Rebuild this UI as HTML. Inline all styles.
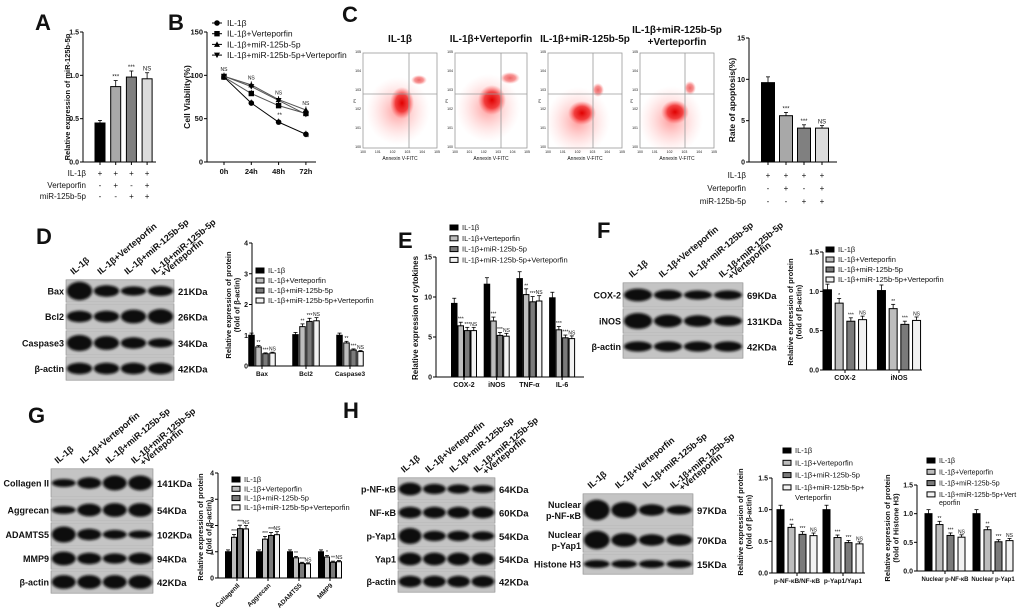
<!DOCTYPE html>
<html><head><meta charset="utf-8"><style>
html,body{margin:0;padding:0;background:#fff;}
svg{display:block;font-family:"Liberation Sans",Arial,sans-serif;}
</style></head><body>
<svg id="fig" width="1020" height="613" viewBox="0 0 1020 613" xmlns="http://www.w3.org/2000/svg">
<defs>
<filter id="blur1" x="-50%" y="-100%" width="200%" height="300%"><feGaussianBlur stdDeviation="1.4"/></filter>
<radialGradient id="redc"><stop offset="0" stop-color="#e00000" stop-opacity="1"/><stop offset="0.55" stop-color="#ee2020" stop-opacity="0.8"/><stop offset="1" stop-color="#ff6060" stop-opacity="0"/></radialGradient>
<radialGradient id="pinkc"><stop offset="0" stop-color="#ff7070" stop-opacity="0.7"/><stop offset="1" stop-color="#ffc0c0" stop-opacity="0"/></radialGradient>
</defs>
</svg>
<script>
// ---------- DATA ----------
const seriesNames = ['IL-1β','IL-1β+Verteporfin','IL-1β+miR-125b-5p','IL-1β+miR-125b-5p+Verteporfin'];
const aVals = [0.45,0.87,0.98,0.96];
const aErr = [0.03,0.07,0.07,0.07];
const aStars = ['','***','***','NS'];
const aTicks = [0,0.5,1.0,1.5];
const bTimes = ['0h','24h','48h','72h'];
const bIL = [98,68,46,32];
const bV = [98,79,65,56];
const bM = [99,89,72,60];
const bMV = [99,87,71,55];
const bTicks = [0,50,100,150];
const cVals = [9.6,5.6,4.1,4.1];
const cErr = [0.7,0.4,0.4,0.3];
const cStars = ['','***','***','NS'];
const cTicks = [0,5,10,15];
const dCats = ['Bax','Bcl2','Caspase3'];
const dVals = [[1.0,1.02,1.0],[0.62,1.28,0.75],[0.40,1.45,0.52],[0.42,1.47,0.47]];
const dStars = [['','',''],['**','**','**'],['***','***','***'],['NS','NS','NS']];
const dTicks = [0,1,2,3,4];
const eCats = ['COX-2','iNOS','TNF-α','IL-6'];
const eVals = [[9.2,11.6,12.3,9.9],[6.4,7.0,10.3,5.9],[5.8,5.2,9.4,4.9],[5.8,5.1,9.5,4.8]];
const eStars = [['','','',''],['***','***','**','***'],['***','***','***','***'],['NS','NS','NS','NS']];
const eTicks = [0,5,10,15];
const fCats = ['COX-2','iNOS'];
const fVals = [[1.02,1.01],[0.85,0.78],[0.62,0.58],[0.64,0.63]];
const fStars = [['',''],['*','**'],['***','***'],['NS','NS']];
const fTicks = [0.0,0.5,1.0,1.5];
const gCats = ['CollagenII','Aggrecan','ADAMTS5','MMP9'];
const gVals = [[1.0,1.0,1.0,1.0],[1.55,1.48,0.77,0.80],[1.88,1.62,0.56,0.60],[1.87,1.65,0.54,0.62]];
const gStars = [['','','',''],['***','***','**','*'],['***','***','***','**'],['NS','NS','NS','NS']];
const gTicks = [0,1,2,3,4];
const h1Cats = ['p-NF-κB/NF-κB','p-Yap1/Yap1'];
const h1Vals = [[1.0,1.0],[0.72,0.56],[0.61,0.48],[0.59,0.46]];
const h1Stars = [['',''],['**','***'],['***','***'],['NS','NS']];
const h2Cats = ['Nuclear p-NF-κB','Nuclear p-Yap1'];
const h2Vals = [[1.0,1.0],[0.81,0.72],[0.62,0.51],[0.59,0.53]];
const h2Stars = [['',''],['**','**'],['***','***'],['NS','NS']];
const hTicks = [0.0,0.5,1.0,1.5];

// ---------- HELPERS ----------
const NS='http://www.w3.org/2000/svg';
const S=document.getElementById('fig');
const FILLS=['#000','#bdbdbd','#7a7a7a','#f2f2f2'];
function mk(tag,attrs,parent){const e=document.createElementNS(NS,tag);for(const k in attrs)e.setAttribute(k,attrs[k]);(parent||S).appendChild(e);return e;}
function txt(x,y,s,size,anchor,weight,name,rot){
  const t=mk('text',{x:x,y:y,'font-size':size,'text-anchor':anchor||'start','font-weight':weight||'normal',fill:'#111'});
  if(rot!==undefined)t.setAttribute('transform','rotate('+rot+' '+x+' '+y+')');
  t.textContent=s;
  
  
  return t;
}
function line(x1,y1,x2,y2,w,name,col){
  const l=mk('line',{x1:x1,y1:y1,x2:x2,y2:y2,stroke:col||'#000','stroke-width':w||1});
  
  
  return l;
}
function panelLabel(x,y,s){txt(x,y,s,22,'start','bold','panel-label-'+s.toLowerCase());}
function yAxis(ax,y0,yTop,ymax,ticks,fmt,prefix,fs){
  line(ax,y0,ax,yTop,1,prefix+'-y-axis');
  ticks.forEach(v=>{const y=y0-(y0-yTop)*v/ymax;line(ax-3,y,ax,y,1,prefix+'-y-tick');txt(ax-4,y+2.5,fmt(v),fs||7,'end','bold',prefix+'-y-tick-label');});
}
function yTitle(x,y,lines,prefix,fs){
  lines.forEach((s,i)=>txt(x+i*(fs+1),y,s,fs,'middle','bold',prefix+'-y-axis-title',-90));
}
function legend(x,y,dy,prefix,fs,names){
  (names||seriesNames).forEach((s,i)=>{
    const r=mk('rect',{x:x,y:y+i*dy-5,width:8,height:5,fill:FILLS[i],stroke:'#000','stroke-width':1});
    
    
    txt(x+12,y+i*dy,s,fs,'start','normal',prefix+'-legend-entry');
  });
}
function bar(cx,bw,y0,yv,fill,name){
  const r=mk('rect',{x:cx-bw/2,y:Math.min(yv,y0),width:bw,height:Math.abs(y0-yv),fill:fill,stroke:'#000','stroke-width':1});
  
  
  return r;
}
function errbar(cx,yv,ye,name){
  line(cx,yv,cx,ye,0.8,name);line(cx-2,ye,cx+2,ye,0.8,name+'-cap');
}
function grouped(o){
  const sc=v=>o.y0-(o.y0-o.yTop)*v/o.ymax;
  yAxis(o.ax,o.y0,o.yTop,o.ymax,o.ticks,o.fmt,o.p,o.tfs);
  line(o.ax,o.y0,o.ar,o.y0,1,o.p+'-x-axis');
  o.cats.forEach((c,g)=>{
    const gc=o.c0+g*o.step;
    line(gc,o.y0,gc,o.y0+3,1,o.p+'-x-tick');
    if(o.rotLab) txt(gc+3,o.y0+8,c,6.5,'end','bold',o.p+'-x-tick-label',-45);
    else txt(gc,o.y0+10,c,o.xfs||7,'middle','bold',o.p+'-x-tick-label');
    for(let s=0;s<4;s++){
      const cx=gc+(s-1.5)*o.bstep;const v=o.vals[s][g];
      const yv=sc(v);const ye=sc(v*1.07);
      errbar(cx,yv,ye,o.p+'-error-bar');
      bar(cx,o.bw,o.y0,yv,FILLS[s],o.p+'-bar-'+c.toLowerCase().replace(/[^a-z0-9]+/g,'-')+'-s'+(s+1));
      if(o.stars[s][g])txt(cx,ye-1.5,o.stars[s][g],o.sfs||5,'middle','normal',o.p+'-significance');
    }
  });
}
function single(o){
  const sc=v=>o.y0-(o.y0-o.yTop)*v/o.ymax;
  yAxis(o.ax,o.y0,o.yTop,o.ymax,o.ticks,o.fmt,o.p,o.tfs);
  line(o.ax,o.y0,o.ar,o.y0,1,o.p+'-x-axis');
  o.vals.forEach((v,i)=>{
    const cx=o.c0+i*o.step;const yv=sc(v);const ye=sc(v+o.err[i]);
    line(cx,o.y0,cx,o.y0+3,1,o.p+'-x-tick');
    errbar(cx,yv,ye,o.p+'-error-bar');
    bar(cx,o.bw,o.y0,yv,o.fills[i],o.p+'-bar-'+(i+1));
    if(o.stars[i])txt(cx,ye-2,o.stars[i],6,'middle','normal',o.p+'-significance');
  });
  const rows=[['IL-1β','+','+','+','+'],['Verteporfin','-','+','-','+'],['miR-125b-5p','-','-','+','+']];
  rows.forEach((r,j)=>{
    txt(o.lx,o.ry[j],r[0],8,'end','normal',o.p+'-condition-label');
    for(let i=0;i<4;i++)txt(o.c0+i*o.step,o.ry[j],r[i+1],8,'middle','normal',o.p+'-condition-sign');
  });
}
function blot(o){
  const lanes=4;let y=o.y;
  const bg=mk('rect',{x:o.x,y:o.y,width:o.w,height:o.rows.reduce((a,r)=>a+r.h,0),fill:'#fff'});
  
  
  o.rows.forEach((r,ri)=>{
    const rr=mk('rect',{x:o.x,y:y+0.8,width:o.w,height:r.h-1.6,fill:'#c4c4c4',stroke:'#8a8a8a','stroke-width':0.6});
    
    
    for(let l=0;l<lanes;l++){
      const cx=o.x+o.w*(l+0.5)/lanes;
      const b=mk('ellipse',{cx:cx,cy:y+r.h/2,rx:o.w/lanes*0.47,ry:r.band[l]*1.15,fill:'#0e0e0e',filter:'url(#blur1)'});
      
      
    }
    const ls=r.label.split('|');
    ls.forEach((s,k)=>txt(o.x-2,y+r.h/2+3.5+(k-(ls.length-1)/2)*11,s,o.lfs||9,'end','bold',o.p+'-protein-label'));
    txt(o.x+o.w+4,y+r.h/2+4,r.kda,9.5,'start','bold',o.p+'-kda-label');
    y+=r.h;
  });
  const labs=['IL-1β','IL-1β+Verteporfin','IL-1β+miR-125b-5p','IL-1β+miR-125b-5p'];
  for(let l=0;l<lanes;l++){
    const cx=o.x+o.w*(l+0.5)/lanes-6;const cy=o.y-4;
    txt(cx,cy,labs[l],o.cfs||9,'start','bold',o.p+'-lane-label',-40);
  }
  const cx=o.x+o.w*3.5/lanes+3,cy=o.y-2;
  txt(cx,cy,'+Verteporfin',o.cfs||9,'start','bold',o.p+'-lane-label',-40);
}

// ---------- PANEL A ----------
panelLabel(35,30,'A');
single({p:'a',ax:83,ar:156,y0:162,yTop:32,ymax:1.5,ticks:aTicks,fmt:v=>v.toFixed(1),vals:aVals,err:aErr,stars:aStars,c0:100,step:15.7,bw:10,fills:['#000','#a8a8a8','#808080','#dcdcdc'],lx:86,ry:[176,188,199]});
yTitle(70,97,['Relative expression of miR-125b-5p'],'a',7.5);

// ---------- PANEL B ----------
panelLabel(168,30,'B');
(function(){
  const ax=207,y0=162,yTop=32,ymax=150;
  const sx=i=>224+i*27.3,sy=v=>y0-(y0-yTop)*v/ymax;
  yAxis(ax,y0,yTop,ymax,bTicks,v=>String(v),'b',7.5);
  line(ax,y0,316,y0,1,'b-x-axis');
  bTimes.forEach((t,i)=>{line(sx(i),y0,sx(i),y0+3,1,'b-x-tick');txt(sx(i),y0+12,t,7.5,'middle','bold','b-x-tick-label');});
  yTitle(190,97,['Cell Viability(%)'],'b',8.5);
  const series=[bIL,bV,bM,bMV];const shapes=['circle','square','tri','tridown'];
  function marker(x,y,sh,name){
    let m;
    if(sh==='circle')m=mk('circle',{cx:x,cy:y,r:2.8,fill:'#000'});
    else if(sh==='square')m=mk('rect',{x:x-2.7,y:y-2.7,width:5.4,height:5.4,fill:'#000'});
    else if(sh==='tri')m=mk('polygon',{points:(x-3)+','+(y+2.5)+' '+(x+3)+','+(y+2.5)+' '+x+','+(y-3),fill:'#000'});
    else m=mk('polygon',{points:(x-3)+','+(y-2.5)+' '+(x+3)+','+(y-2.5)+' '+x+','+(y+3),fill:'#000'});
    
    
  }
  series.forEach((s,k)=>{
    const pl=mk('polyline',{points:s.map((v,i)=>sx(i)+','+sy(v)).join(' '),fill:'none',stroke:k===0?'#000':'#555','stroke-width':1});
    
    
    s.forEach((v,i)=>{line(sx(i),sy(v),sx(i),sy(v+4),0.8,'b-error-bar');marker(sx(i),sy(v),shapes[k],'b-point-s'+(k+1));});
  });
  for(let i=0;i<4;i++){
    const top=sy(Math.max(bV[i],bM[i],bMV[i])+6);
    txt(sx(i),top,'NS',5,'middle','normal','b-significance');
    if(i>0)txt(sx(i)+1,sy(bIL[i])-5+ (i===3?10:0),i===1?'':'**',6,'middle','normal','b-significance');
  }
  seriesNames.forEach((s,k)=>{
    const y=23+k*10.7;
    line(212,y,222,y,1,'b-legend-line');
    marker(217,y,shapes[k],'b-legend-marker');
    txt(227,y+3,s,8.5,'start','normal','b-legend-entry');
  });
})();

// ---------- PANEL C ----------
panelLabel(342,22,'C');
(function(){
  const plots=[{x:363,w:74,gv:409,main:[402,103,12,16],sec:[419,80,8,5],title:['IL-1β']},
    {x:455,w:72,gv:501,main:[492,100,14,15],sec:[510,78,10,6],title:['IL-1β+Verteporfin']},
    {x:548,w:74,gv:593,main:[582,113,14,12],sec:[598,90,6,7],title:['IL-1β+miR-125b-5p']},
    {x:640,w:74,gv:685,main:[675,112,14,12],sec:[690,88,6,7],title:['IL-1β+miR-125b-5p','+Verteporfin']}];
  plots.forEach((p,i)=>{
    const g=mk('g',{});
    
    
    const r=mk('rect',{x:p.x,y:53,width:p.w,height:95,fill:'#fff',stroke:'#9a9a9a','stroke-width':0.8},g);
    
    const bgc=mk('ellipse',{cx:p.main[0]-4,cy:p.main[1]+8,rx:32,ry:34,fill:'url(#pinkc)'},g);
    
    const m=mk('ellipse',{cx:p.main[0],cy:p.main[1],rx:p.main[2],ry:p.main[3],fill:'url(#redc)'},g);
    
    const s=mk('ellipse',{cx:p.sec[0],cy:p.sec[1],rx:p.sec[2],ry:p.sec[3],fill:'url(#redc)',opacity:0.6},g);
    
    line(p.gv,53,p.gv,148,0.8,'c-gate-vertical','#9a9a9a');
    line(p.x,94,p.x+p.w,94,0.8,'c-gate-horizontal','#9a9a9a');
    for(let k=0;k<6;k++){txt(p.x+k*p.w/5,153,'10'+k,3.5,'middle','normal','c-flow-x-tick');txt(p.x-2,148-k*19,'10'+k,3.5,'end','normal','c-flow-y-tick');}
    txt(p.x+p.w/2,160,'Annexin V-FITC',5,'middle','normal','c-flow-x-title');
    txt(p.x-7,101,'PI',4,'middle','normal','c-flow-y-title',-90);
    p.title.forEach((t,k)=>txt(p.x+p.w/2,(p.title.length>1?33:42)+k*12,t,10,'middle','bold','c-flow-title'));
  });
  single({p:'c',ax:749,ar:837,y0:162,yTop:38,ymax:15,ticks:cTicks,fmt:v=>String(v),vals:cVals,err:cErr,stars:cStars,c0:768,step:18,bw:13,fills:['#000','#a8a8a8','#808080','#dcdcdc'],lx:746,ry:[178,191,204]});
  yTitle(735,100,['Rate of apoptosis(%)'],'c',8.5);
})();

// ---------- PANEL D ----------
panelLabel(36,244,'D');
blot({p:'d',x:66,y:279,w:108,rows:[
  {label:'Bax',kda:'21KDa',h:24,band:[8,5,4,4.5]},
  {label:'Bcl2',kda:'26KDa',h:27,band:[5,5,6,6.5]},
  {label:'Caspase3',kda:'34KDa',h:26,band:[7,6,5,4]},
  {label:'β-actin',kda:'42KDa',h:25,band:[5,5,5,5]}]});
grouped({p:'d',ax:252,ar:362,y0:366,yTop:243,ymax:4,ticks:dTicks,fmt:v=>String(v),cats:dCats,vals:dVals,stars:dStars,c0:262,step:44,bw:5.5,bstep:7,tfs:7,xfs:6.5});
yTitle(231,305,['Relative expression of protein','(fold of β-actin)'],'d',7.5);
legend(256,273,10,'d',7.5);

// ---------- PANEL E ----------
panelLabel(398,248,'E');
grouped({p:'e',ax:436,ar:584,y0:377,yTop:257,ymax:15,ticks:eTicks,fmt:v=>String(v),cats:eCats,vals:eVals,stars:eStars,c0:464,step:32.7,bw:5.5,bstep:6.5,tfs:7,xfs:7});
yTitle(418,318,['Relative expression of cytokines'],'e',8);
legend(450,230,10.8,'e',7.5);

// ---------- PANEL F ----------
panelLabel(597,238,'F');
blot({p:'f',x:623,y:282,w:120,rows:[
  {label:'COX-2',kda:'69KDa',h:26,band:[5.5,4.5,4,4]},
  {label:'iNOS',kda:'131KDa',h:26,band:[7,5.5,5,4.5]},
  {label:'β-actin',kda:'42KDa',h:25,band:[4.5,4.5,4.5,4.5]}]});
grouped({p:'f',ax:823,ar:922,y0:370,yTop:252,ymax:1.5,ticks:fTicks,fmt:v=>v.toFixed(1),cats:fCats,vals:fVals,stars:fStars,c0:845,step:54,bw:8,bstep:11.7,tfs:7,xfs:7});
yTitle(793,312,['Relative expression of protein','(fold of β-actin)'],'f',7.5);
legend(826,252,10,'f',7.5);

// ---------- PANEL G ----------
panelLabel(28,423,'G');
blot({p:'g',x:51,y:468,w:102,rows:[
  {label:'Collagen II',kda:'141KDa',h:30,band:[3.5,5,6.5,6.5]},
  {label:'Aggrecan',kda:'54KDa',h:24,band:[3.5,5.5,6,6]},
  {label:'ADAMTS5',kda:'102KDa',h:25,band:[7,5,4,3.5]},
  {label:'MMP9',kda:'94KDa',h:23,band:[6,5,4.5,5]},
  {label:'β-actin',kda:'42KDa',h:24,band:[6,6,6,6]}]});
grouped({p:'g',ax:218,ar:338,y0:578,yTop:473,ymax:4,ticks:gTicks,fmt:v=>String(v),cats:gCats,vals:gVals,stars:gStars,c0:237,step:31,bw:5,bstep:6,tfs:7,rotLab:true});
yTitle(203,527,['Relative expression of protein','(fold of β-actin)'],'g',7.5);
legend(232,482,9.3,'g',7.5);

// ---------- PANEL H ----------
panelLabel(343,418,'H');
blot({p:'h1',x:398,y:477,w:97,rows:[
  {label:'p-NF-κB',kda:'64KDa',h:24,band:[5.5,4.5,4,3.5]},
  {label:'NF-κB',kda:'60KDa',h:23,band:[5,5,5,5]},
  {label:'p-Yap1',kda:'54KDa',h:24,band:[7,4.5,4.5,4]},
  {label:'Yap1',kda:'54KDa',h:22,band:[5.5,5.5,5.5,5.5]},
  {label:'β-actin',kda:'42KDa',h:23,band:[5,5,5,5]}]});
blot({p:'h2',x:583,y:493,w:110,lfs:9,rows:[
  {label:'Nuclear|p-NF-κB',kda:'97KDa',h:34,band:[9,7,5,4]},
  {label:'Nuclear|p-Yap1',kda:'70KDa',h:26,band:[8,6,5,5]},
  {label:'Histone H3',kda:'15KDa',h:22,band:[3.5,3.5,3.5,3.5]}]});
grouped({p:'h1',ax:772,ar:865,y0:573,yTop:478,ymax:1.5,ticks:hTicks,fmt:v=>v.toFixed(1),cats:h1Cats,vals:h1Vals,stars:h1Stars,c0:797,step:46,bw:7,bstep:11,tfs:7,xfs:6.5});
yTitle(743,522,['Relative expression of protein','(fold of β-actin)'],'h1',7.5);
legend(783,453,12.3,'h1',7.5,['IL-1β','IL-1β+Verteporfin','IL-1β+miR-125b-5p','IL-1β+miR-125b-5p+']);
txt(795,500,'Verteporfin',7.5,'start','normal','h1-legend-entry');
grouped({p:'h2',ax:917,ar:1010,y0:571,yTop:485,ymax:1.5,ticks:hTicks,fmt:v=>v.toFixed(1),cats:h2Cats,vals:h2Vals,stars:h2Stars,c0:945,step:48,bw:7,bstep:11,tfs:7,xfs:6});
yTitle(890,528,['Relative expression of protein','(fold of Histone H3)'],'h2',7.5);
legend(927,463,11.3,'h2',7,['IL-1β','IL-1β+Verteporfin','IL-1β+miR-125b-5p','IL-1β+miR-125b-5p+Vert']);
txt(939,505,'eporfin',7,'start','normal','h2-legend-entry');
</script>
</body></html>
